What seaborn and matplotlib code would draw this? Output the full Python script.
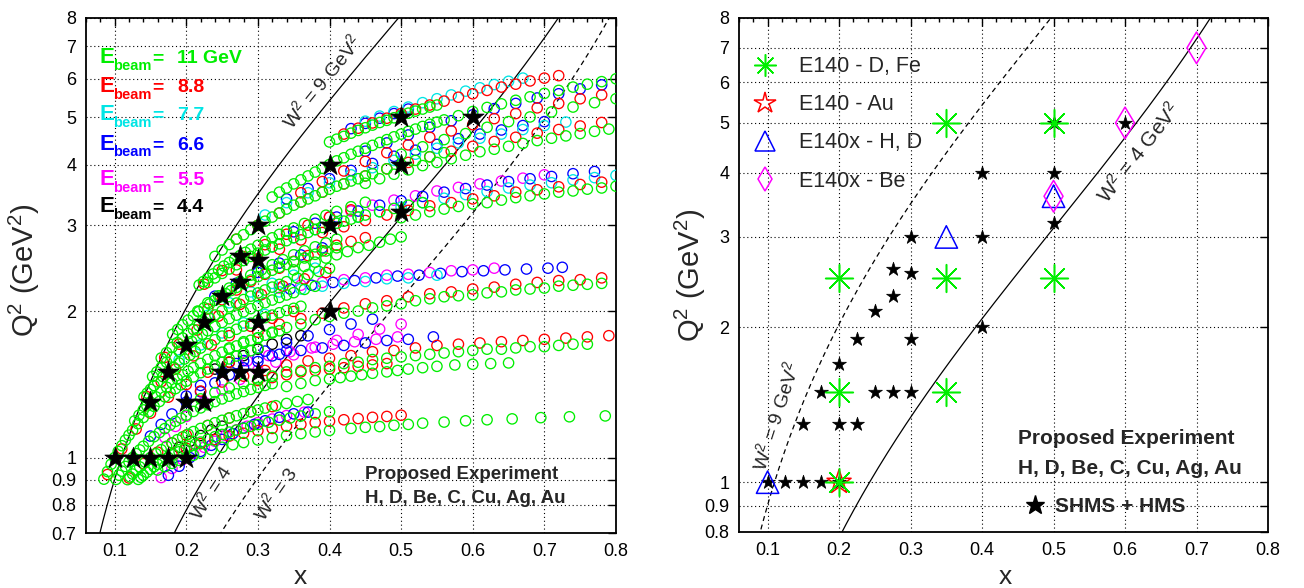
import numpy as np
import pandas as pd
import matplotlib
matplotlib.use("Agg")
import matplotlib.pyplot as plt
import seaborn as sns
from matplotlib.ticker import FixedLocator, FixedFormatter, MultipleLocator, NullLocator
from matplotlib.lines import Line2D

sns.set_style("white")
plt.rcParams['font.family'] = ['Liberation Sans', 'DejaVu Sans']
plt.rcParams['mathtext.fontset'] = 'custom'
plt.rcParams['mathtext.rm'] = 'Liberation Sans'
plt.rcParams['mathtext.it'] = 'Liberation Sans:italic'
plt.rcParams['mathtext.bf'] = 'Liberation Sans:bold'

# ---------------- data: left panel (circles per beam energy) ----------------
BEAM_ORDER = ['4.4', '5.5', '6.6', '7.7', '8.8', '11']
BEAM_COLORS = {'11': '#00ee00', '8.8': '#ff0000', '7.7': '#00e5e5',
               '6.6': '#0000ff', '5.5': '#ff00ff', '4.4': '#000000'}

t1_red_x = [0.42,0.44,0.46,0.48,0.50,0.52,0.54,0.56,0.58,0.60,0.62,0.64,0.66,0.68,0.70,0.72]
t1_red_q = [4.62,4.75,4.87,4.98,5.09,5.20,5.30,5.40,5.50,5.59,5.68,5.77,5.85,5.94,6.02,6.09]
t1_cyan_x = [0.45,0.47,0.49,0.51,0.53,0.55,0.57,0.59,0.61,0.63,0.65,0.67]
t1_cyan_q = [4.91,5.03,5.14,5.25,5.36,5.46,5.56,5.66,5.75,5.84,5.93,6.02]
t1_green_x = [0.40,0.41,0.42,0.43,0.44,0.45,0.46,0.47,0.48,0.49,0.50,0.51,0.52,0.53,0.54,0.55]
t1_green_q = [4.45,4.51,4.57,4.64,4.70,4.76,4.82,4.88,4.93,4.99,5.04,5.10,5.15,5.20,5.25,5.30]
t1_blue_x = [0.43,0.45,0.47,0.49,0.51]
t1_blue_q = [4.74,4.86,4.98,5.09,5.20]

t2_green_x = [0.32,0.34,0.36,0.38,0.40,0.42,0.44,0.46,0.48,0.50,0.52,0.54,0.56,0.58,0.60,0.62,0.64,0.66,0.68,0.70,0.72,0.74,0.76,0.78,0.80]
t2_green_q = [3.43,3.58,3.72,3.86,4.00,4.13,4.26,4.38,4.50,4.62,4.73,4.84,4.94,5.04,5.14,5.24,5.33,5.42,5.51,5.60,5.68,5.77,5.85,5.92,6.00]
t2_greenb_x = [0.33,0.35,0.37,0.39,0.41,0.43,0.45,0.47,0.49,0.51,0.53,0.55]
t2_greenb_q = [3.51,3.65,3.79,3.93,4.07,4.20,4.32,4.44,4.56,4.68,4.79,4.89]
t2_blue_x = [0.45,0.48,0.51,0.54,0.57,0.60,0.63,0.66,0.69,0.72,0.75,0.78]
t2_blue_q = [4.26,4.43,4.60,4.77,4.92,5.06,5.21,5.34,5.48,5.59,5.72,5.83]
t2_red_x = [0.36,0.39,0.42,0.45,0.48,0.51,0.54,0.57,0.60,0.63,0.66,0.69,0.72,0.75,0.78]
t2_red_q = [3.50,3.69,3.88,4.06,4.23,4.39,4.55,4.69,4.83,4.97,5.09,5.23,5.34,5.46,5.56]
t2_green2_x = [0.50,0.53,0.56,0.59,0.62,0.65,0.68,0.71,0.74,0.77,0.80]
t2_green2_q = [4.20,4.35,4.50,4.63,4.77,4.90,5.01,5.13,5.25,5.36,5.46]

t3_green_x = [0.24,0.26,0.28,0.30,0.32,0.34,0.36,0.38,0.40,0.42,0.44,0.46,0.48,0.50,0.52,0.54,0.56]
t3_green_q = [2.59,2.74,2.87,3.00,3.12,3.24,3.35,3.45,3.56,3.65,3.74,3.83,3.92,4.00,4.08,4.15,4.23]
t3_greenb_x = [0.25,0.27,0.29,0.31,0.33,0.35,0.37,0.39,0.41,0.43,0.45]
t3_greenb_q = [2.67,2.81,2.94,3.06,3.18,3.30,3.40,3.51,3.61,3.70,3.79]
t3_green2_x = [0.45,0.47,0.49,0.51,0.53,0.55,0.57,0.59,0.61,0.63,0.65,0.67,0.69,0.71,0.73,0.75,0.77,0.79]
t3_green2_q = [3.66,3.74,3.82,3.90,3.98,4.04,4.11,4.18,4.25,4.30,4.36,4.42,4.48,4.53,4.58,4.63,4.68,4.73]
t3_red_x = [0.27,0.30,0.33,0.36,0.39,0.42,0.45,0.48,0.51,0.54,0.57,0.60,0.63,0.66,0.69,0.72,0.75,0.78]
t3_red_q = [2.81,3.00,3.18,3.35,3.51,3.65,3.79,3.92,4.04,4.15,4.26,4.36,4.46,4.55,4.64,4.72,4.80,4.88]
t3_cyan_x = [0.31,0.34,0.37,0.40,0.43,0.46,0.49,0.52,0.55,0.58,0.61,0.64,0.67,0.70,0.73]
t3_cyan_q = [3.15,3.34,3.50,3.67,3.81,3.94,4.08,4.20,4.32,4.43,4.53,4.62,4.72,4.81,4.89]
t3_blue_x = [0.34,0.37,0.40,0.43,0.46,0.49,0.52,0.55,0.58,0.61,0.64,0.67,0.70]
t3_blue_q = [3.40,3.57,3.74,3.89,4.02,4.16,4.28,4.40,4.52,4.62,4.71,4.81,4.90]

t4_green_x = [0.23,0.25,0.27,0.29,0.31,0.33,0.35,0.37,0.39,0.41,0.43,0.45,0.47,0.49,0.51,0.53]
t4_green_q = [2.29,2.39,2.49,2.59,2.67,2.75,2.83,2.90,2.97,3.03,3.09,3.15,3.20,3.25,3.30,3.34]
t4_greenb_x = [0.24,0.26,0.28,0.30,0.32,0.34,0.36,0.38,0.40,0.42,0.44]
t4_greenb_q = [2.34,2.44,2.54,2.63,2.71,2.79,2.87,2.94,3.00,3.06,3.12]
t4_green2_x = [0.50,0.52,0.54,0.56,0.58,0.60,0.62,0.64,0.66,0.68,0.70,0.72,0.74,0.76,0.78,0.80]
t4_green2_q = [3.11,3.15,3.20,3.24,3.28,3.32,3.34,3.38,3.42,3.45,3.48,3.51,3.53,3.56,3.58,3.61]
t4_cyan_x = [0.32,0.35,0.38,0.41,0.44,0.47,0.50,0.53,0.56,0.59,0.62,0.65,0.68,0.71,0.74,0.77,0.80]
t4_cyan_q = [2.71,2.83,2.94,3.03,3.12,3.20,3.27,3.34,3.41,3.47,3.52,3.58,3.63,3.67,3.72,3.76,3.80]
t4_red_x = [0.27,0.30,0.33,0.36,0.39,0.42,0.45,0.48,0.51,0.54,0.57,0.60,0.63,0.66,0.69,0.72,0.75,0.78]
t4_red_q = [2.43,2.56,2.68,2.80,2.90,2.98,3.07,3.15,3.22,3.29,3.34,3.40,3.45,3.51,3.55,3.60,3.64,3.68]
t4_blue_x = [0.35,0.38,0.41,0.44,0.47,0.50,0.53,0.56,0.59,0.62,0.65,0.68,0.71,0.74,0.77]
t4_blue_q = [2.91,3.03,3.12,3.21,3.30,3.37,3.44,3.51,3.57,3.63,3.69,3.74,3.78,3.83,3.87]
t4_mag_x = [0.40,0.43,0.46,0.49,0.52,0.55,0.58,0.61,0.64,0.67,0.70]
t4_mag_q = [3.12,3.21,3.30,3.38,3.45,3.53,3.59,3.65,3.70,3.75,3.81]

u3_green_x = [0.216,0.23,0.245,0.26,0.275,0.29,0.305,0.32,0.335,0.35,0.365,0.38,0.395,0.41]
u3_green_q = [2.00,2.08,2.15,2.23,2.30,2.37,2.43,2.49,2.55,2.61,2.66,2.71,2.76,2.81]
m1_green_x = [0.35,0.365,0.38,0.395,0.41,0.425,0.44,0.455,0.47,0.485,0.50]
m1_green_q = [2.43,2.47,2.52,2.57,2.61,2.65,2.70,2.73,2.77,2.81,2.84]
u3_red_x = [0.23,0.25,0.27,0.29,0.31,0.33,0.35,0.37,0.39,0.41,0.43,0.45]
u3_red_q = [2.02,2.11,2.21,2.30,2.38,2.45,2.53,2.60,2.66,2.73,2.78,2.83]

p5u_mag_x = [0.33,0.36,0.39,0.42,0.45,0.48,0.51,0.54,0.57,0.60,0.63]
p5u_mag_q = [2.23,2.26,2.29,2.32,2.34,2.37,2.38,2.40,2.42,2.43,2.45]
p5u_blue_x = [0.345,0.375,0.405,0.435,0.465,0.495,0.525,0.555,0.585,0.615,0.645,0.675,0.705,0.725]
p5u_blue_q = [2.22,2.26,2.29,2.31,2.34,2.36,2.37,2.39,2.41,2.42,2.43,2.44,2.45,2.46]
p5u_cyan_x = [0.30,0.33,0.36,0.39,0.42,0.45,0.48,0.51,0.55]
p5u_cyan_q = [2.14,2.19,2.22,2.25,2.28,2.30,2.33,2.34,2.37]
p5_red_x = [0.30,0.33,0.36,0.39,0.42,0.45,0.48,0.51,0.54,0.57,0.60,0.63,0.66,0.69,0.72,0.75,0.78]
p5_red_q = [1.81,1.88,1.93,1.98,2.03,2.07,2.10,2.14,2.17,2.19,2.22,2.24,2.27,2.29,2.31,2.32,2.34]
p5_green_x = [0.26,0.28,0.30,0.32,0.34,0.36,0.38,0.40,0.42,0.44,0.46,0.48,0.50,0.52,0.54,0.56,0.58,0.60,0.62,0.64,0.66,0.68,0.70,0.72,0.74,0.76,0.78]
p5_green_q = [1.68,1.73,1.76,1.81,1.85,1.88,1.92,1.95,1.98,2.00,2.03,2.05,2.07,2.10,2.12,2.14,2.15,2.16,2.18,2.19,2.21,2.22,2.23,2.25,2.26,2.27,2.28]

p6_red_x = [0.22,0.25,0.28,0.31,0.34,0.37,0.40,0.43,0.46,0.49,0.52,0.55,0.58,0.61,0.64,0.67,0.70,0.73,0.76,0.79]
p6_red_q = [1.37,1.43,1.47,1.51,1.55,1.58,1.60,1.62,1.65,1.66,1.68,1.70,1.71,1.72,1.73,1.74,1.75,1.76,1.77,1.78]
p6_green_x = [0.22,0.24,0.26,0.28,0.30,0.32,0.34,0.36,0.38,0.40,0.42,0.44,0.46,0.48,0.50,0.52,0.54,0.56,0.58,0.60,0.62,0.64,0.66,0.68,0.70,0.72,0.74,0.76]
p6_green_q = [1.32,1.36,1.39,1.42,1.45,1.47,1.50,1.51,1.53,1.54,1.56,1.57,1.59,1.60,1.61,1.62,1.63,1.64,1.65,1.66,1.67,1.67,1.68,1.69,1.69,1.70,1.71,1.71]
p6_blue_x = [0.27,0.30,0.33,0.36,0.39,0.42,0.45,0.48,0.51,0.545]
p6_blue_q = [1.56,1.60,1.63,1.66,1.68,1.70,1.72,1.74,1.75,1.77]
p6_mag_x = [0.285,0.315,0.345,0.375,0.405,0.435,0.465,0.495]
p6_mag_q = [1.58,1.62,1.65,1.68,1.71,1.73,1.75,1.77]

p7_green_x = [0.34,0.36,0.38,0.40,0.415,0.43,0.445,0.46,0.48,0.495,0.51,0.53,0.55,0.575,0.60,0.625,0.65]
p7_green_q = [1.40,1.42,1.44,1.45,1.46,1.47,1.48,1.49,1.50,1.51,1.52,1.53,1.54,1.55,1.555,1.56,1.565]
p7_red_x = [0.30,0.32,0.34,0.36,0.38,0.40,0.42,0.44,0.46,0.48]
p7_red_q = [1.44,1.46,1.48,1.50,1.51,1.52,1.53,1.54,1.55,1.56]

p8_green_x = [0.16,0.17,0.18,0.19,0.20,0.21,0.22,0.235,0.25,0.265,0.28,0.30,0.32,0.34,0.36,0.38,0.40,0.43,0.45,0.47,0.49,0.51,0.53,0.56,0.59,0.62,0.655,0.695,0.735,0.785]
p8_green_q = [0.943,0.958,0.973,0.987,1.00,1.011,1.022,1.038,1.05,1.063,1.074,1.087,1.099,1.11,1.12,1.129,1.137,1.148,1.154,1.158,1.165,1.17,1.177,1.183,1.19,1.196,1.201,1.208,1.213,1.218]
p8_red_x = [0.18,0.20,0.22,0.24,0.26,0.28,0.30,0.32,0.34,0.36,0.38,0.40,0.42,0.44,0.46,0.48,0.50]
p8_red_q = [1.017,1.045,1.068,1.089,1.107,1.122,1.136,1.148,1.160,1.170,1.180,1.188,1.196,1.203,1.210,1.215,1.222]

l1_mag_x = [0.165,0.18,0.195,0.21,0.225,0.24,0.255,0.27,0.285,0.30,0.32,0.34,0.365]
l1_mag_q = [0.91,0.95,0.99,1.02,1.05,1.08,1.11,1.14,1.16,1.18,1.20,1.22,1.24]
l1_blue_x = [0.175,0.19,0.205,0.22,0.235,0.25,0.265,0.28,0.295,0.31,0.33,0.35,0.37]
l1_blue_q = [0.92,0.96,1.00,1.03,1.06,1.09,1.12,1.15,1.17,1.19,1.21,1.23,1.24]
k1_x = [0.19,0.205,0.22,0.235,0.25]
k1_q = [1.05,1.08,1.11,1.14,1.16]
k2_x = [0.24,0.26,0.28,0.30,0.32,0.34,0.36]
k2_q = [1.52,1.57,1.62,1.67,1.71,1.75,1.78]

f1_x = [0.085,0.095,0.105,0.115,0.125,0.14,0.155,0.17,0.185,0.20,0.22,0.24,0.26,0.28,0.30]
f1_q = [0.903,0.969,1.030,1.086,1.138,1.209,1.274,1.333,1.386,1.435,1.494,1.547,1.595,1.638,1.678]
f1b_x = [0.09,0.10,0.11,0.12,0.1325,0.1475,0.1625,0.1775,0.1925,0.21,0.23,0.25,0.27,0.29]
f1b_q = [0.936,1.000,1.058,1.112,1.174,1.242,1.304,1.360,1.411,1.465,1.521,1.571,1.617,1.658]
f2_x = [0.102,0.11,0.12,0.13,0.14,0.155,0.17,0.185,0.20,0.22,0.24,0.26,0.28,0.30,0.32]
f2_q = [0.902,0.938,0.980,1.019,1.055,1.104,1.147,1.187,1.222,1.265,1.303,1.337,1.367,1.394,1.419]
f2b_x = [0.106,0.115,0.125,0.135,0.1475,0.1625,0.1775,0.1925,0.21,0.23,0.25,0.27,0.29,0.31]
f2b_q = [0.920,0.959,1.000,1.037,1.080,1.126,1.167,1.205,1.244,1.284,1.320,1.352,1.381,1.407]
f3_x = [0.118,0.125,0.135,0.15,0.165,0.18,0.195,0.21,0.23,0.25,0.27,0.29,0.31,0.34,0.37]
f3_q = [0.901,0.925,0.957,1.000,1.038,1.072,1.103,1.131,1.164,1.193,1.219,1.242,1.264,1.292,1.316]
f3b_x = [0.1215,0.13,0.1425,0.1575,0.1725,0.1875,0.2025,0.22,0.24,0.26,0.28,0.30,0.325,0.355]
f3b_q = [0.913,0.941,0.979,1.019,1.055,1.088,1.117,1.148,1.179,1.206,1.231,1.253,1.278,1.304]
f4_x = [0.133,0.14,0.15,0.16,0.175,0.19,0.205,0.22,0.24,0.26,0.28,0.30,0.33,0.36,0.40]
f4_q = [0.902,0.920,0.946,0.969,1.000,1.028,1.054,1.076,1.104,1.128,1.149,1.169,1.194,1.217,1.242]
f4b_x = [0.1365,0.145,0.155,0.1675,0.1825,0.1975,0.2125,0.23,0.25,0.27,0.29,0.315,0.345,0.38]
f4b_q = [0.911,0.933,0.958,0.985,1.014,1.041,1.065,1.090,1.116,1.139,1.159,1.182,1.206,1.230]
fa_x = [0.128,0.14,0.15,0.165,0.18,0.195,0.21,0.23,0.25,0.27,0.29,0.31,0.33]
fa_q = [1.19,1.253,1.30,1.365,1.425,1.479,1.530,1.591,1.646,1.696,1.742,1.784,1.822]
fab_x = [0.134,0.145,0.1575,0.1725,0.1875,0.2025,0.22,0.24,0.26,0.28,0.30,0.32]
fab_q = [1.222,1.277,1.333,1.395,1.452,1.505,1.561,1.619,1.671,1.719,1.763,1.803]
fb_x = [0.141,0.15,0.16,0.175,0.19,0.205,0.22,0.24,0.26,0.28,0.30,0.32,0.34,0.36]
fb_q = [1.333,1.381,1.431,1.50,1.564,1.624,1.679,1.746,1.807,1.863,1.915,1.962,2.006,2.046]
fbb_x = [0.1455,0.155,0.1675,0.1825,0.1975,0.2125,0.23,0.25,0.27,0.29,0.31,0.33,0.35]
fbb_q = [1.357,1.406,1.466,1.532,1.594,1.652,1.713,1.777,1.835,1.889,1.939,1.984,2.026]
fc_x = [0.153,0.165,0.18,0.20,0.215,0.23,0.25,0.27,0.29,0.31,0.33,0.35,0.38]
fc_q = [1.468,1.532,1.608,1.70,1.763,1.822,1.895,1.962,2.023,2.080,2.133,2.182,2.249]
fcb_x = [0.159,0.1725,0.19,0.2075,0.2225,0.24,0.26,0.28,0.30,0.32,0.34,0.365]
fcb_q = [1.500,1.570,1.654,1.732,1.793,1.859,1.929,1.993,2.052,2.107,2.158,2.216]
fd_x = [0.165,0.18,0.195,0.21,0.225,0.24,0.26,0.28,0.30,0.32,0.34,0.37,0.40]
fd_q = [1.602,1.684,1.761,1.833,1.90,1.963,2.041,2.112,2.179,2.240,2.298,2.377,2.448]
fdb_x = [0.1725,0.1875,0.2025,0.2175,0.2325,0.25,0.27,0.29,0.31,0.33,0.355,0.385]
fdb_q = [1.643,1.723,1.797,1.867,1.932,2.002,2.077,2.146,2.210,2.269,2.338,2.413]
fe_x = [0.181,0.195,0.21,0.225,0.24,0.255,0.27,0.29,0.31,0.33,0.35,0.38,0.41]
fe_q = [1.792,1.874,1.955,2.032,2.104,2.172,2.236,2.316,2.391,2.460,2.526,2.616,2.698]
feb_x = [0.188,0.2025,0.2175,0.2325,0.2475,0.2625,0.28,0.30,0.32,0.34,0.365,0.395]
feb_q = [1.833,1.915,1.994,2.068,2.138,2.204,2.276,2.354,2.426,2.493,2.571,2.657]
ff_x = [0.218,0.23,0.245,0.26,0.275,0.29,0.31,0.33,0.35,0.38,0.41,0.45]
ff_q = [2.262,2.338,2.430,2.517,2.60,2.680,2.780,2.875,2.964,3.089,3.205,3.346]
ffb_x = [0.224,0.2375,0.2525,0.2675,0.2825,0.30,0.32,0.34,0.365,0.395,0.43]
ffb_q = [2.300,2.384,2.474,2.559,2.640,2.730,2.828,2.920,3.027,3.147,3.276]

f1_red_x = [0.09,0.11,0.13,0.15,0.175,0.20,0.23,0.26]
f1_red_q = [0.923,1.042,1.145,1.234,1.331,1.413,1.498,1.571]
f3_red_x = [0.12,0.14,0.16,0.18,0.20,0.23,0.26,0.29,0.32]
f3_red_q = [0.908,0.972,1.026,1.072,1.112,1.164,1.206,1.242,1.273]
fb_red_x = [0.145,0.165,0.185,0.21,0.235,0.26,0.29,0.32,0.35]
fb_red_q = [1.334,1.432,1.520,1.618,1.704,1.780,1.861,1.933,1.996]
fd_red_x = [0.17,0.19,0.215,0.245,0.275,0.305,0.335,0.365,0.395]
fd_red_q = [1.606,1.710,1.828,1.953,2.064,2.162,2.250,2.329,2.400]
ff_red_x = [0.225,0.25,0.28,0.31,0.34,0.37,0.40,0.43]
ff_red_q = [2.272,2.422,2.588,2.738,2.876,3.003,3.120,3.228]
fd_cyan_x = [0.23,0.26,0.29,0.32,0.35,0.38]
fd_cyan_q = [1.96,2.08,2.19,2.28,2.37,2.45]
fb_cyan_x = [0.19,0.22,0.25,0.28,0.31]
fb_cyan_q = [1.588,1.704,1.804,1.891,1.968]
fe_blue_x = [0.24,0.27,0.30,0.33,0.36,0.39]
fe_blue_q = [2.146,2.281,2.401,2.509,2.608,2.697]
fg_blue_x = [0.15,0.165,0.18,0.20,0.22,0.24,0.26,0.28,0.30,0.32,0.34]
fg_blue_q = [1.107,1.170,1.229,1.30,1.365,1.424,1.479,1.529,1.575,1.618,1.658]
fh_mag_x = [0.17,0.185,0.20,0.225,0.25,0.275,0.30,0.325,0.35,0.38,0.41,0.44,0.47,0.50]
fh_mag_q = [1.100,1.159,1.215,1.30,1.377,1.448,1.512,1.571,1.626,1.686,1.741,1.791,1.837,1.880]
fi_blue_x = [0.20,0.22,0.25,0.28,0.31,0.34,0.37,0.40,0.43,0.46]
fi_blue_q = [1.338,1.407,1.50,1.582,1.655,1.720,1.779,1.832,1.881,1.925]

ARCS = [
    ('11', t1_green_x, t1_green_q), ('8.8', t1_red_x, t1_red_q), ('7.7', t1_cyan_x, t1_cyan_q), ('6.6', t1_blue_x, t1_blue_q),
    ('11', t2_green_x, t2_green_q), ('11', t2_greenb_x, t2_greenb_q), ('6.6', t2_blue_x, t2_blue_q),
    ('8.8', t2_red_x, t2_red_q), ('11', t2_green2_x, t2_green2_q),
    ('11', t3_green_x, t3_green_q), ('11', t3_greenb_x, t3_greenb_q), ('11', t3_green2_x, t3_green2_q),
    ('8.8', t3_red_x, t3_red_q), ('7.7', t3_cyan_x, t3_cyan_q), ('6.6', t3_blue_x, t3_blue_q),
    ('11', t4_green_x, t4_green_q), ('11', t4_greenb_x, t4_greenb_q), ('11', t4_green2_x, t4_green2_q),
    ('7.7', t4_cyan_x, t4_cyan_q), ('8.8', t4_red_x, t4_red_q), ('6.6', t4_blue_x, t4_blue_q), ('5.5', t4_mag_x, t4_mag_q),
    ('11', u3_green_x, u3_green_q), ('11', m1_green_x, m1_green_q), ('8.8', u3_red_x, u3_red_q),
    ('5.5', p5u_mag_x, p5u_mag_q), ('6.6', p5u_blue_x, p5u_blue_q), ('7.7', p5u_cyan_x, p5u_cyan_q),
    ('8.8', p5_red_x, p5_red_q), ('11', p5_green_x, p5_green_q),
    ('8.8', p6_red_x, p6_red_q), ('11', p6_green_x, p6_green_q), ('6.6', p6_blue_x, p6_blue_q), ('5.5', p6_mag_x, p6_mag_q),
    ('11', p7_green_x, p7_green_q), ('8.8', p7_red_x, p7_red_q),
    ('11', p8_green_x, p8_green_q), ('8.8', p8_red_x, p8_red_q),
    ('5.5', l1_mag_x, l1_mag_q), ('6.6', l1_blue_x, l1_blue_q), ('4.4', k1_x, k1_q), ('4.4', k2_x, k2_q),
    ('11', f1_x, f1_q), ('11', f2_x, f2_q), ('11', f3_x, f3_q), ('11', f4_x, f4_q),
    ('11', f1b_x, f1b_q), ('11', f2b_x, f2b_q), ('11', f3b_x, f3b_q), ('11', f4b_x, f4b_q),
    ('11', fa_x, fa_q), ('11', fb_x, fb_q), ('11', fc_x, fc_q), ('11', fd_x, fd_q), ('11', fe_x, fe_q), ('11', ff_x, ff_q),
    ('11', fab_x, fab_q), ('11', fbb_x, fbb_q), ('11', fcb_x, fcb_q), ('11', fdb_x, fdb_q), ('11', feb_x, feb_q), ('11', ffb_x, ffb_q),
    ('8.8', f1_red_x, f1_red_q), ('8.8', f3_red_x, f3_red_q), ('8.8', fb_red_x, fb_red_q), ('8.8', fd_red_x, fd_red_q), ('8.8', ff_red_x, ff_red_q),
    ('7.7', fd_cyan_x, fd_cyan_q), ('7.7', fb_cyan_x, fb_cyan_q), ('6.6', fe_blue_x, fe_blue_q),
    ('6.6', fg_blue_x, fg_blue_q), ('5.5', fh_mag_x, fh_mag_q), ('6.6', fi_blue_x, fi_blue_q),
]

# SHMS + HMS central settings (stars), same in both panels
star_x = [0.1,0.125,0.15,0.175,0.2, 0.15,0.2,0.225, 0.175,0.25,0.275,0.3, 0.2, 0.225,0.3, 0.25, 0.275, 0.275,0.3, 0.3,
          0.4,0.4,0.4, 0.5,0.5,0.5, 0.6]
star_q = [1.0,1.0,1.0,1.0,1.0, 1.3,1.3,1.3, 1.5,1.5,1.5,1.5, 1.7, 1.9,1.9, 2.15, 2.3, 2.6,2.55, 3.0,
          2.0,3.0,4.0, 3.2,4.0,5.0, 5.0]

# right panel: previous data
e140_dfe_x = [0.2, 0.35, 0.35, 0.5, 0.5, 0.2, 0.35, 0.2]
e140_dfe_q = [2.5, 5.0, 2.5, 5.0, 2.5, 1.5, 1.5, 1.0]
e140_au_x = [0.2]
e140_au_q = [1.0]
e140x_hd_x = [0.1, 0.35, 0.5]
e140x_hd_q = [1.0, 3.0, 3.6]
e140x_be_x = [0.5, 0.6, 0.7]
e140x_be_q = [3.6, 5.0, 7.0]

# W^2 contours
M2 = 0.88
W2_left = [9, 4, 3]
W2_right = [9, 4]

# ---------------- figure ----------------
fig = plt.figure(figsize=(13.04, 5.88), dpi=100)
ax1 = fig.add_axes([86/1304, 1-533/588, 530/1304, 515/588])
ax2 = fig.add_axes([739/1304, 1-532/588, 529/1304, 514/588])

rows = []
for beam, xs, qs in ARCS:
    assert len(xs) == len(qs)
    for x, q in zip(xs, qs):
        rows.append((beam, x, q))
df = pd.DataFrame(rows, columns=['beam', 'x', 'q2'])

for beam in BEAM_ORDER:
    sub = df[df['beam'] == beam]
    c = BEAM_COLORS[beam]
    sns.scatterplot(data=sub, x='x', y='q2', ax=ax1, marker='o', s=55, color=c,
                    facecolor='none', edgecolor=c, linewidth=0.95, legend=False, zorder=3)

xs_line = np.linspace(0.06, 0.8, 400)
line_styles_left = {9: '-', 4: '-', 3: (0, (4, 3))}
for w2 in W2_left:
    sns.lineplot(x=xs_line, y=(w2 - M2) * xs_line / (1 - xs_line), ax=ax1, color='k',
                 lw=0.9, linestyle=line_styles_left[w2], zorder=2)
line_styles_right = {9: (0, (4, 3)), 4: '-'}
for w2 in W2_right:
    sns.lineplot(x=xs_line, y=(w2 - M2) * xs_line / (1 - xs_line), ax=ax2, color='k',
                 lw=0.9, linestyle=line_styles_right[w2], zorder=2)

sns.scatterplot(x=star_x, y=star_q, ax=ax1, marker='*', s=260, color='k', edgecolor='k',
                linewidth=0.5, legend=False, zorder=5)
sns.scatterplot(x=star_x, y=star_q, ax=ax2, marker='*', s=110, color='k', edgecolor='k',
                linewidth=0.5, legend=False, zorder=3)

GREEN = '#00ee00'
sns.scatterplot(x=e140_au_x, y=e140_au_q, ax=ax2, marker='*', s=330, color='red',
                facecolor='none', edgecolor='red', linewidth=1.1, legend=False, zorder=4)
sns.scatterplot(x=e140x_hd_x, y=e140x_hd_q, ax=ax2, marker='^', s=260, color='blue',
                facecolor='none', edgecolor='blue', linewidth=1.1, legend=False, zorder=4)
sns.scatterplot(x=e140x_be_x, y=e140x_be_q, ax=ax2, marker='d', s=260, color='magenta',
                facecolor='none', edgecolor='magenta', linewidth=1.1, legend=False, zorder=4)
sns.scatterplot(x=e140_dfe_x, y=e140_dfe_q, ax=ax2, marker=(8, 2, 0), s=400, color=GREEN,
                linewidth=1.1, legend=False, zorder=6)

# ---------------- axes styling ----------------
for ax, ylo, yt in [(ax1, 0.7, [0.7, 0.8, 0.9, 1, 2, 3, 4, 5, 6, 7, 8]),
                    (ax2, 0.8, [0.8, 0.9, 1, 2, 3, 4, 5, 6, 7, 8])]:
    ax.set_yscale('log')
    ax.set_xlim(0.06, 0.8)
    ax.set_ylim(ylo, 8)
    ax.xaxis.set_major_locator(FixedLocator([0.1, 0.2, 0.3, 0.4, 0.5, 0.6, 0.7, 0.8]))
    ax.xaxis.set_major_formatter(FixedFormatter(['0.1', '0.2', '0.3', '0.4', '0.5', '0.6', '0.7', '0.8']))
    ax.xaxis.set_minor_locator(MultipleLocator(0.02))
    ax.yaxis.set_major_locator(FixedLocator(yt))
    ax.yaxis.set_major_formatter(FixedFormatter([('%g' % v) for v in yt]))
    ax.yaxis.set_minor_locator(NullLocator())
    ax.tick_params(which='both', direction='in', top=True, right=True, colors='k')
    ax.tick_params(which='major', length=6, width=1.0, labelsize=13, pad=7)
    ax.tick_params(which='minor', length=3, width=1.0)
    ax.grid(True, which='major', color='k', linestyle=(0, (1, 2.5)), linewidth=0.8)
    ax.set_axisbelow(True)
    for sp in ax.spines.values():
        sp.set_color('k')
        sp.set_linewidth(1.3)
    ax.set_xlabel('x', fontsize=19)
    ax.set_ylabel('Q$^2$ (GeV$^2$)', fontsize=21)

ax1.xaxis.set_label_coords(0.404, -0.062)
ax2.xaxis.set_label_coords(0.503, -0.064)
ax1.yaxis.set_label_coords(-0.083, 0.51)
ax2.yaxis.set_label_coords(-0.058, 0.50)

# left panel annotations
beam_rows = [('11 GeV', '11', 0.9126), ('8.8', '8.8', 0.8563), ('7.7', '7.7', 0.8019),
             ('6.6', '6.6', 0.7437), ('5.5', '5.5', 0.6757), ('4.4', '4.4', 0.6233)]
for txt, key, yy in beam_rows:
    col = BEAM_COLORS[key]
    ax1.text(0.0264, yy, 'E', transform=ax1.transAxes, fontsize=16,
             color=col, fontweight='bold', va='baseline', ha='left')
    ax1.text(0.0264 + 13.5 / 530, yy - 6.5 / 515, 'beam', transform=ax1.transAxes, fontsize=10.5,
             color=col, fontweight='bold', va='baseline', ha='left')
    ax1.text(0.1245, yy, '=', transform=ax1.transAxes, fontsize=14, color=col,
             fontweight='bold', va='baseline', ha='left')
    ax1.text(0.1717, yy, txt, transform=ax1.transAxes, fontsize=14, color=col,
             fontweight='bold', va='baseline', ha='left')

ax1.text(0.445, 0.876, 'W$^2$ = 9 GeV$^2$', transform=ax1.transAxes, fontsize=14,
         rotation=51, ha='center', va='center')
ax1.text(0.234, 0.080, 'W$^2$ = 4', transform=ax1.transAxes, fontsize=14,
         rotation=57, ha='center', va='center')
ax1.text(0.357, 0.076, 'W$^2$ = 3', transform=ax1.transAxes, fontsize=14,
         rotation=55, ha='center', va='center')
ax1.text(0.526, 0.105, 'Proposed Experiment', transform=ax1.transAxes, fontsize=13.5,
         fontweight='bold', va='baseline', ha='left')
ax1.text(0.526, 0.058, 'H, D, Be, C, Cu, Ag, Au', transform=ax1.transAxes, fontsize=13.5,
         fontweight='bold', va='baseline', ha='left')

# right panel annotations
ax2.text(0.071, 0.226, 'W$^2$ = 9 GeV$^2$', transform=ax2.transAxes, fontsize=14,
         rotation=72, ha='center', va='center')
ax2.text(0.756, 0.739, 'W$^2$ = 4 GeV$^2$', transform=ax2.transAxes, fontsize=15,
         rotation=52, ha='center', va='center')
ax2.text(0.527, 0.171, 'Proposed Experiment', transform=ax2.transAxes, fontsize=15,
         fontweight='bold', va='baseline', ha='left')
ax2.text(0.527, 0.113, 'H, D, Be, C, Cu, Ag, Au', transform=ax2.transAxes, fontsize=15,
         fontweight='bold', va='baseline', ha='left')

handles = [
    Line2D([], [], marker=(8, 2, 0), color=GREEN, ls='none', ms=16, mew=1.1),
    Line2D([], [], marker='*', color='red', mfc='none', ls='none', ms=16, mew=1.1),
    Line2D([], [], marker='^', color='blue', mfc='none', ls='none', ms=14, mew=1.1),
    Line2D([], [], marker='d', color='magenta', mfc='none', ls='none', ms=12, mew=1.1),
]
labels = ['E140 - D, Fe', 'E140 - Au', 'E140x - H, D', 'E140x - Be']
leg = ax2.legend(handles, labels, loc='upper left', bbox_to_anchor=(0.025, 0.926), frameon=False,
                 fontsize=15.5, handlelength=1.2, handletextpad=0.95, labelspacing=0.80,
                 borderaxespad=0, borderpad=0)
ax2.add_artist(leg)
h2 = [Line2D([], [], marker='*', color='k', ls='none', ms=14)]
ax2.legend(h2, ['SHMS + HMS'], loc='center left', bbox_to_anchor=(0.535, 0.05), frameon=False,
           prop={'size': 15, 'weight': 'bold'}, handlelength=1.2, handletextpad=0.4,
           borderaxespad=0, borderpad=0)

fig.savefig('out.png', dpi=100)
